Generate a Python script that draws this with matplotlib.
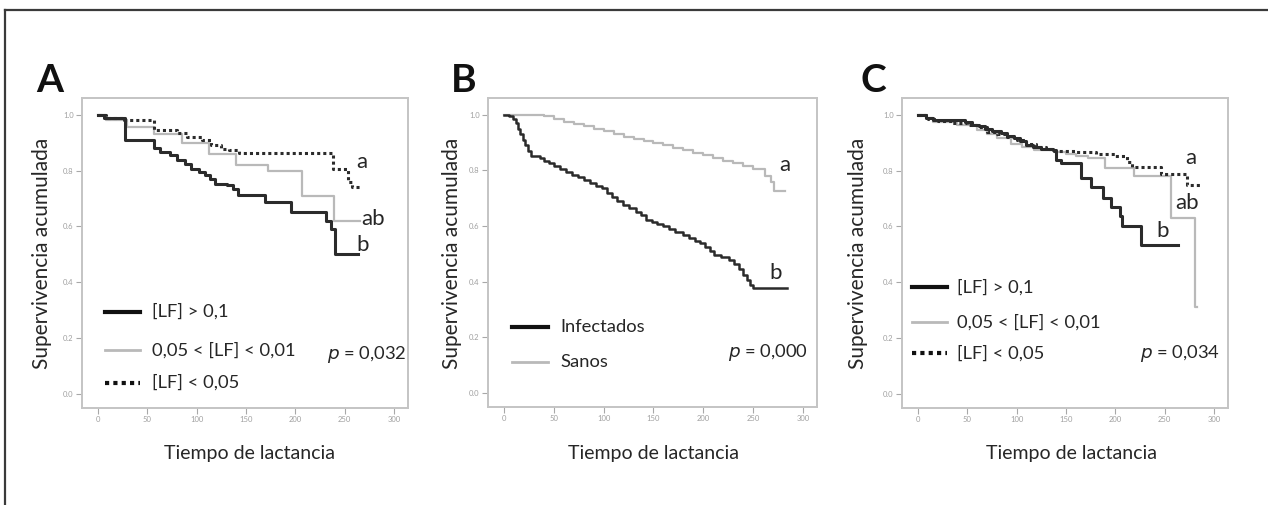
import matplotlib
matplotlib.use("Agg")
import matplotlib.pyplot as plt
from matplotlib.lines import Line2D

plt.rcParams['font.family'] = ['Lato', 'DejaVu Sans']

W, H = 1268, 505

# survival curves, (days, cumulative survival) read as step points
# panel A - lactoferrin groups
a_high_t = [0, 6, 28, 57, 63, 73, 80, 88, 94, 102, 109, 114, 119, 131, 137, 142, 169, 196, 231, 236, 240, 263]
a_high_s = [1.0, 0.99, 0.91, 0.88, 0.867, 0.855, 0.837, 0.825, 0.807, 0.795, 0.783, 0.771, 0.753, 0.747, 0.735, 0.711, 0.687, 0.651, 0.62, 0.59, 0.50, 0.50]

a_mid_t = [0, 8, 30, 57, 85, 113, 140, 172, 207, 239, 265]
a_mid_s = [1.0, 0.98, 0.957, 0.93, 0.90, 0.861, 0.82, 0.80, 0.71, 0.62, 0.62]

a_low_t = [0, 8, 27, 57, 80, 90, 105, 115, 125, 133, 143, 238, 253, 257, 266]
a_low_s = [1.0, 0.99, 0.98, 0.945, 0.933, 0.921, 0.909, 0.891, 0.879, 0.873, 0.863, 0.806, 0.76, 0.74, 0.74]

# panel B - infected vs healthy
b_inf_t = [0, 5, 9, 12, 14, 16, 19, 21, 24, 27, 36, 40, 45, 50, 56, 62, 68, 74, 80, 86, 92, 98,
           103, 108, 113, 119, 125, 132, 137, 142, 148, 154, 160, 166, 172, 180, 186, 192, 197,
           202, 207, 211, 218, 226, 231, 236, 240, 244, 247, 250, 284]
b_inf_s = [1.0, 0.995, 0.985, 0.97, 0.95, 0.93, 0.91, 0.89, 0.87, 0.85, 0.845, 0.835, 0.825, 0.815,
           0.805, 0.795, 0.785, 0.775, 0.765, 0.755, 0.745, 0.735, 0.72, 0.705, 0.69, 0.676, 0.665,
           0.652, 0.64, 0.623, 0.615, 0.607, 0.599, 0.59, 0.58, 0.569, 0.558, 0.548, 0.538, 0.525,
           0.51, 0.497, 0.488, 0.479, 0.465, 0.445, 0.425, 0.405, 0.39, 0.377, 0.377]

b_sano_t = [0, 40, 50, 60, 70, 80, 90, 100, 110, 120, 130, 140, 150, 160, 170, 180, 190, 200,
            210, 220, 230, 240, 250, 262, 268, 271, 282]
b_sano_s = [1.0, 0.995, 0.985, 0.975, 0.965, 0.958, 0.95, 0.94, 0.93, 0.92, 0.912, 0.905, 0.898,
            0.89, 0.88, 0.872, 0.864, 0.855, 0.845, 0.835, 0.825, 0.815, 0.806, 0.78, 0.76, 0.725, 0.725]

# panel C - lactoferrin groups
c_high_t = [0, 8, 15, 48, 55, 62, 68, 75, 84, 90, 97, 103, 110, 117, 125, 137, 140, 145, 165,
            175, 187, 196, 205, 207, 226, 263]
c_high_s = [1.0, 0.99, 0.98, 0.975, 0.965, 0.958, 0.95, 0.942, 0.933, 0.925, 0.915, 0.905, 0.893,
            0.884, 0.878, 0.874, 0.838, 0.826, 0.773, 0.743, 0.701, 0.671, 0.636, 0.60, 0.535, 0.535]

c_mid_t = [0, 8, 15, 40, 60, 70, 80, 94, 105, 118, 138, 150, 160, 172, 189, 219, 256, 281, 283]
c_mid_s = [1.0, 0.99, 0.975, 0.965, 0.945, 0.93, 0.915, 0.895, 0.885, 0.874, 0.868, 0.86, 0.852,
           0.844, 0.808, 0.78, 0.63, 0.31, 0.31]

c_low_t = [0, 10, 20, 35, 50, 60, 70, 80, 90, 100, 110, 120, 130, 138, 160, 180, 200, 212, 217,
           246, 272, 287]
c_low_s = [1.0, 0.985, 0.978, 0.972, 0.965, 0.955, 0.94, 0.93, 0.92, 0.91, 0.895, 0.885, 0.878,
           0.87, 0.865, 0.86, 0.853, 0.83, 0.814, 0.787, 0.75, 0.75]

lf_labels = ['[LF] > 0,1', '0,05 < [LF] < 0,01', '[LF] < 0,05']
b_labels = ['Infectados', 'Sanos']
p_values = ['0,032', '0,000', '0,034']

DARK = '#2b2b2b'
GRAY = '#b9b9b9'
TXT = '#262626'
DOT = (0, (1, 1))


def px_box(l, t, r, b):
    # pixel box (left, top, right, bottom) -> figure fractions
    return [l / W, 1 - b / H, (r - l) / W, (b - t) / H]


def setup_axes(ax):
    ax.set_xlim(-16, 314)
    ax.set_ylim(-0.05, 1.06)
    ax.set_xticks(range(0, 301, 50))
    ax.set_yticks([0, 0.2, 0.4, 0.6, 0.8, 1.0])
    ax.set_yticklabels(['0.0', '0.2', '0.4', '0.6', '0.8', '1.0'])
    ax.tick_params(direction='out', length=4, width=0.8, color='#a8a8a8',
                   labelsize=5.5, labelcolor='#a0a0a0', pad=2)
    for sp in ax.spines.values():
        sp.set_color('#c4c4c4')
        sp.set_linewidth(1.4)


def legend_rows(ax, x0, x1, xt, rows, styles):
    for y, lab, st in zip(rows[0], rows[1], styles):
        ax.plot([x0, x1], [y, y], transform=ax.transAxes, clip_on=False, **st)
        ax.text(xt, y, lab, transform=ax.transAxes, ha='left', va='center',
                fontsize=13.2, color=TXT)


fig = plt.figure(figsize=(W / 100, H / 100), dpi=100)

# outer frame (left and top edges)
fig.add_artist(Line2D([5 / W, 5 / W], [0, 1 - 10 / H], color='#3a3a3a', lw=1.6))
fig.add_artist(Line2D([5 / W, 1], [1 - 10 / H, 1 - 10 / H], color='#3a3a3a', lw=1.6))

axA = fig.add_axes(px_box(82, 98, 408, 408))
axB = fig.add_axes(px_box(488, 98, 817, 407))
axC = fig.add_axes(px_box(902, 98, 1228, 408))

st_high = dict(color=DARK, lw=2.2)
st_mid = dict(color=GRAY, lw=1.6)
st_low = dict(color=DARK, lw=2.2, linestyle=DOT)

# A
setup_axes(axA)
axA.step(a_mid_t, a_mid_s, where='post', **st_mid)
axA.step(a_high_t, a_high_s, where='post', **st_high)
axA.step(a_low_t, a_low_s, where='post', **st_low)
axA.text(267, 0.83, 'a', fontsize=16, color=TXT, ha='center', va='center')
axA.text(279, 0.625, 'ab', fontsize=16, color=TXT, ha='center', va='center')
axA.text(268, 0.535, 'b', fontsize=16, color=TXT, ha='center', va='center')
legend_rows(axA, 0.071, 0.178, 0.215, ([0.31, 0.187, 0.081], lf_labels),
            [dict(color='#111111', lw=3), dict(color=GRAY, lw=2), dict(color='#111111', lw=3, linestyle=DOT)])

# B
setup_axes(axB)
axB.step(b_sano_t, b_sano_s, where='post', color=GRAY, lw=1.6)
axB.step(b_inf_t, b_inf_s, where='post', color=DARK, lw=1.8)
axB.text(282, 0.82, 'a', fontsize=16, color=TXT, ha='center', va='center')
axB.text(272, 0.43, 'b', fontsize=16, color=TXT, ha='center', va='center')
legend_rows(axB, 0.073, 0.182, 0.219, ([0.259, 0.146], b_labels),
            [dict(color='#111111', lw=3), dict(color=GRAY, lw=2)])

# C
setup_axes(axC)
axC.step(c_mid_t, c_mid_s, where='post', **st_mid)
axC.step(c_high_t, c_high_s, where='post', **st_high)
axC.step(c_low_t, c_low_s, where='post', **st_low)
axC.text(276, 0.845, 'a', fontsize=16, color=TXT, ha='center', va='center')
axC.text(273, 0.685, 'ab', fontsize=16, color=TXT, ha='center', va='center')
axC.text(248, 0.585, 'b', fontsize=16, color=TXT, ha='center', va='center')
legend_rows(axC, 0.031, 0.138, 0.169, ([0.39, 0.277, 0.177], lf_labels),
            [dict(color='#111111', lw=3), dict(color=GRAY, lw=2), dict(color='#111111', lw=3, linestyle=DOT)])

# p values, labels and panel letters
for ax, pv, xr, yr in zip([axA, axB, axC], p_values, [0.995, 0.973, 0.975], [0.171, 0.175, 0.177]):
    ax.text(xr, yr, r'$p$ = ' + pv, transform=ax.transAxes, ha='right', va='center',
            fontsize=13.2, color=TXT)

for xc, letter, xl, xx in [(50, 'A', 42, 250), (464, 'B', 452, 653), (873, 'C', 858, 1072)]:
    fig.text(xc / W, 1 - 81 / H, letter, fontsize=28, fontweight='bold', color='#111111',
             ha='center', va='center')
    fig.text(xl / W, 1 - 253 / H, 'Supervivencia acumulada', rotation=90, fontsize=15,
             color=TXT, ha='center', va='center')
    fig.text(xx / W, 1 - 453 / H, 'Tiempo de lactancia', fontsize=14, color=TXT,
             ha='center', va='center')

fig.savefig('out.png', dpi=100)
